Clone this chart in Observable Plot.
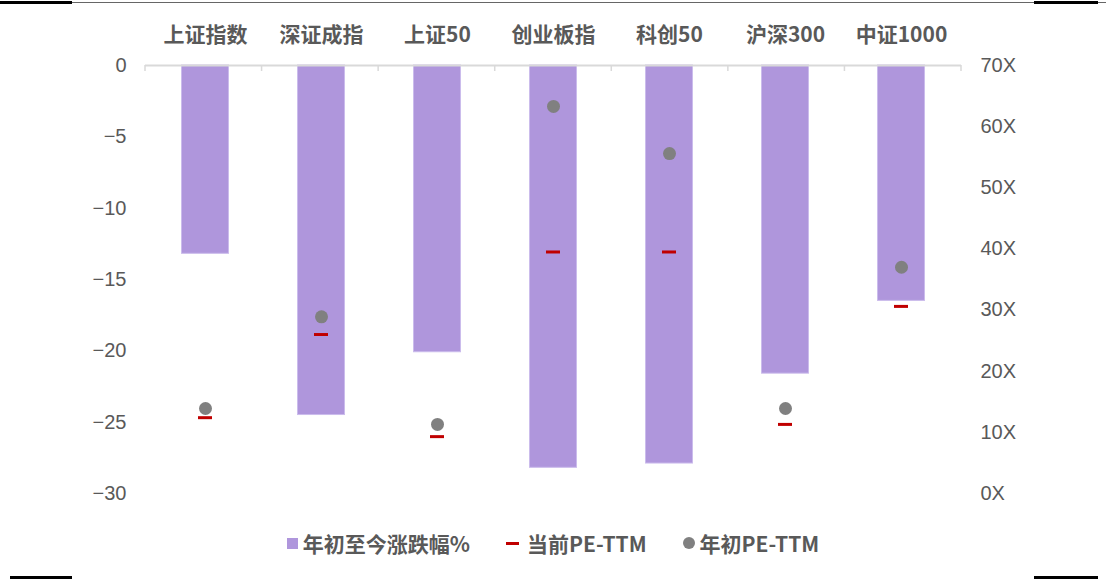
<!DOCTYPE html>
<html><head><meta charset="utf-8">
<script src="https://cdn.jsdelivr.net/npm/d3@7"></script>
<script src="https://cdn.jsdelivr.net/npm/@observablehq/plot@0.6"></script>
<style>
body{margin:0;background:#fff;width:1106px;height:579px;position:relative;overflow:hidden;font-family:"Noto Sans CJK SC",sans-serif;}
#chart{position:absolute;left:0;top:0;}
.legend{position:absolute;top:528px;left:0;width:1106px;display:flex;justify-content:center;align-items:center;font-family:"Noto Sans CJK SC";font-weight:700;font-size:21px;letter-spacing:0px;color:#595959;}
.item{display:flex;align-items:center;margin:0 14px;}
.sw{display:inline-block;margin-right:5px;}
.deco{position:absolute;background:#000;}
</style></head>
<body>
<div id="chart"></div>
<div class="legend">
 <div class="item"><span class="sw" style="width:11px;height:11px;background:#af96dc;"></span>年初至今涨跌幅%</div>
 <div class="item" style="margin-left:22px"><span class="sw" style="width:13px;height:3px;background:#c00000;margin-right:8px"></span>当前PE-TTM</div>
 <div class="item" style="margin-left:22px"><span class="sw" style="width:12px;height:12px;border-radius:50%;background:#808080;"></span>年初PE-TTM</div>
</div>
<div class="deco" style="left:0;top:2px;width:1106px;height:1px;background:#666"></div>
<div class="deco" style="left:0;top:1px;width:72px;height:3px"></div>
<div class="deco" style="left:1034px;top:1px;width:64px;height:3px"></div>
<div class="deco" style="left:10px;top:576px;width:62px;height:3px"></div>
<div class="deco" style="left:1034px;top:576px;width:64px;height:3px"></div>
<script>
const categories = ["上证指数","深证成指","上证50","创业板指","科创50","沪深300","中证1000"];
const ytdChange = [-13.2,-24.5,-20.1,-28.2,-27.9,-21.6,-16.5];
const peCurrent = [12.4,26.0,9.3,39.5,39.5,11.3,30.6];
const peStart = [13.9,28.9,11.3,63.3,55.6,13.9,37.0];
const leftTicks = [0,-5,-10,-15,-20,-25,-30];
const rightTicks = [0,10,20,30,40,50,60,70];

const toY = v => v*30/70 - 30;
const data = categories.map((c,i)=>({c, chg: ytdChange[i], cur: toY(peCurrent[i]), start: toY(peStart[i])}));

const W = 1106, H = 520;
const chart = Plot.plot({
  width: W, height: H,
  marginTop: 65, marginBottom: 27, marginLeft: 145, marginRight: 145,
  style: {fontFamily: "'Liberation Sans', Arial, sans-serif", fontSize: "20px", color: "#595959", background: "#fff"},
  x: {domain: categories, paddingInner: 0.59, paddingOuter: 0.295, axis: null},
  y: {domain: [-30, 0], axis: null},
  marks: [
    Plot.barY(data, {x: "c", y: "chg", fill: "#af96dc", stroke: "#cbbcec", strokeWidth: 1, insetLeft: 0.5, insetRight: 0.5}),
    Plot.ruleY([0], {stroke: "#d9d9d9", strokeWidth: 2}),
    Plot.tickY(data, {x: "c", y: "cur", stroke: "#c00000", strokeWidth: 3, insetLeft: 17, insetRight: 17}),
    Plot.dot(data, {x: "c", y: "start", r: 6.5, fill: "#808080", stroke: null}),
    Plot.axisX({anchor: "top", tickSize: 0, tickPadding: 24, fontFamily: "'Noto Sans CJK SC'", fontWeight: 700, fontSize: 21, letterSpacing: 1.5, fill: "#595959", label: null}),
    Plot.axisY({anchor: "left", ticks: leftTicks, tickSize: 0, tickPadding: 19, fontSize: 20, fill: "#595959", label: null, tickFormat: d => d === 0 ? "0" : "\u2212" + Math.abs(d)}),
    Plot.axisY({anchor: "right", ticks: rightTicks.map(toY), tickSize: 0, tickPadding: 19, fontSize: 20, fill: "#595959", label: null, tickFormat: d => Math.round((d+30)*70/30) + "X"})
  ]
});
document.getElementById("chart").appendChild(chart);

// category boundary tick marks on the zero line
const svg = d3.select(chart);
const sx = d3.scaleLinear().domain([0,categories.length]).range([145,961]);
svg.append("g").selectAll("line").data(d3.range(categories.length+1)).join("line")
  .attr("x1", i=>sx(i)).attr("x2", i=>sx(i)).attr("y1", 65).attr("y2", 71)
  .attr("stroke", "#d9d9d9").attr("stroke-width", 1.5);
</script>
</body></html>
